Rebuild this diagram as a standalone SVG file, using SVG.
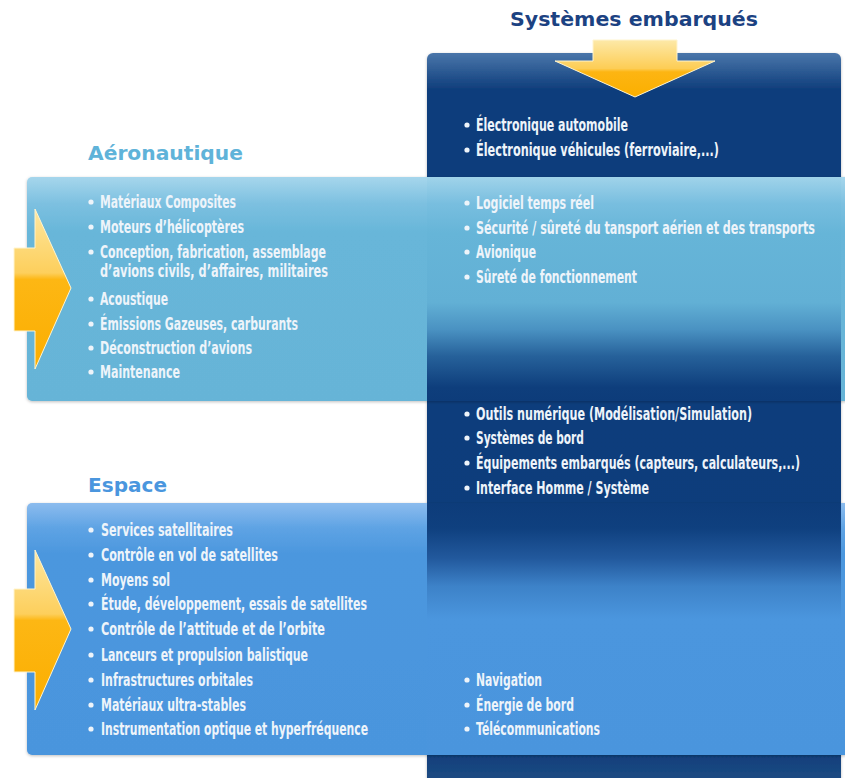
<svg xmlns="http://www.w3.org/2000/svg" width="845" height="778" viewBox="0 0 845 778">
  <defs>
    <style>
      .title { font-family: "DejaVu Sans", "Liberation Sans", sans-serif; font-weight: bold; }
      .item { font-family: "DejaVu Sans", "Liberation Sans", sans-serif; font-weight: bold; font-size: 11px; fill: #eef4fa; }
      .dot { fill: #eef4fa; }
    </style>
    <linearGradient id="colGrad" gradientUnits="userSpaceOnUse" x1="0" y1="53" x2="0" y2="778">
      <stop offset="0" stop-color="#4a76aa"/>
      <stop offset="0.05" stop-color="#0f3e7c"/>
      <stop offset="0.96" stop-color="#0d3c7a"/>
      <stop offset="1" stop-color="#1d4a82"/>
    </linearGradient>
    <linearGradient id="aeroGrad" gradientUnits="userSpaceOnUse" x1="0" y1="177" x2="0" y2="401">
      <stop offset="0" stop-color="#a6d6ec"/>
      <stop offset="0.12" stop-color="#7cc0e0"/>
      <stop offset="0.25" stop-color="#67b6d9"/>
      <stop offset="1" stop-color="#66b4d7"/>
    </linearGradient>
    <linearGradient id="aeroCol" gradientUnits="userSpaceOnUse" x1="0" y1="177" x2="0" y2="401">
      <stop offset="0" stop-color="#a0d3ea"/>
      <stop offset="0.12" stop-color="#78bedf"/>
      <stop offset="0.25" stop-color="#66b5d8"/>
      <stop offset="0.56" stop-color="#62b0d5"/>
      <stop offset="0.68" stop-color="#4a92c2"/>
      <stop offset="0.8" stop-color="#26619a"/>
      <stop offset="0.94" stop-color="#0e3e7c"/>
      <stop offset="1" stop-color="#0d3c7a"/>
    </linearGradient>
    <linearGradient id="espGrad" gradientUnits="userSpaceOnUse" x1="0" y1="503" x2="0" y2="755">
      <stop offset="0" stop-color="#8cbcee"/>
      <stop offset="0.1" stop-color="#5ea3e4"/>
      <stop offset="0.2" stop-color="#4c97de"/>
      <stop offset="1" stop-color="#4a95dd"/>
    </linearGradient>
    <linearGradient id="espCol" gradientUnits="userSpaceOnUse" x1="0" y1="503" x2="0" y2="755">
      <stop offset="0" stop-color="#0d3c7a"/>
      <stop offset="0.1" stop-color="#0f407f"/>
      <stop offset="0.22" stop-color="#22599d"/>
      <stop offset="0.33" stop-color="#3d82c8"/>
      <stop offset="0.46" stop-color="#4b96de"/>
      <stop offset="1" stop-color="#4a95dd"/>
    </linearGradient>
    <linearGradient id="arrowV" x1="0" y1="0" x2="0" y2="1">
      <stop offset="0" stop-color="#fde9a8"/>
      <stop offset="0.5" stop-color="#fdcd55"/>
      <stop offset="0.56" stop-color="#fdb512"/>
      <stop offset="1" stop-color="#fbaf00"/>
    </linearGradient>
    <linearGradient id="arrowH" x1="0" y1="0" x2="0" y2="1">
      <stop offset="0" stop-color="#fde7a0"/>
      <stop offset="0.4" stop-color="#fdcf5c"/>
      <stop offset="0.44" stop-color="#fdb714"/>
      <stop offset="1" stop-color="#fbae00"/>
    </linearGradient>
    <filter id="shadow" x="-5%" y="-5%" width="110%" height="115%">
      <feDropShadow dx="0" dy="1" stdDeviation="1.5" flood-color="#000" flood-opacity="0.25"/>
    </filter>
  </defs>

  <rect x="0" y="0" width="845" height="778" fill="#ffffff"/>

  <g id="systemes-embarques">
    <text class="title" x="510" y="26" font-size="20" fill="#1c4282" textLength="248" lengthAdjust="spacingAndGlyphs">Systèmes embarqués</text>
    <rect x="427" y="53" width="414" height="740" rx="6" fill="url(#colGrad)" filter="url(#shadow)"/>
  </g>

  <g id="aeronautique">
    <text class="title" x="88" y="160" font-size="19" fill="#5fb3d9" textLength="155" lengthAdjust="spacingAndGlyphs">Aéronautique</text>
    <rect x="27" y="177" width="830" height="224" rx="5" fill="url(#aeroGrad)" filter="url(#shadow)"/>
    <rect x="427" y="177" width="414" height="224" fill="url(#aeroCol)"/>
  </g>

  <g id="espace">
    <text class="title" x="88" y="492" font-size="20" fill="#4a96de" textLength="79" lengthAdjust="spacingAndGlyphs">Espace</text>
    <rect x="27" y="503" width="830" height="252" rx="5" fill="url(#espGrad)" filter="url(#shadow)"/>
    <rect x="427" y="503" width="414" height="252" fill="url(#espCol)"/>
  </g>

  <g id="arrows">
    <polygon points="593,40 677,40 677,61 715,61 635,97 555,61 593,61" fill="url(#arrowV)" stroke="#fff4cf" stroke-width="1"/>
    <polygon points="14,248 35,248 35,209 71,288 35,369 35,331 14,331" fill="url(#arrowH)" stroke="#fff4cf" stroke-width="1"/>
    <polygon points="14,589 35,589 35,550 71,629 35,710 35,672 14,672" fill="url(#arrowH)" stroke="#fff4cf" stroke-width="1"/>
  </g>

  <g id="aero-items">
    <circle class="dot" cx="91" cy="202" r="2.6"/><text class="item" transform="translate(100,208) scale(1,1.6)" textLength="136" lengthAdjust="spacingAndGlyphs">Matériaux Composites</text>
    <circle class="dot" cx="91" cy="227" r="2.6"/><text class="item" transform="translate(100,233) scale(1,1.6)" textLength="144" lengthAdjust="spacingAndGlyphs">Moteurs d’hélicoptères</text>
    <circle class="dot" cx="91" cy="252" r="2.6"/><text class="item" transform="translate(100,258) scale(1,1.6)" textLength="226" lengthAdjust="spacingAndGlyphs">Conception, fabrication, assemblage</text>
    <text class="item" transform="translate(100,277) scale(1,1.6)" textLength="228" lengthAdjust="spacingAndGlyphs">d’avions civils, d’affaires, militaires</text>
    <circle class="dot" cx="91" cy="299" r="2.6"/><text class="item" transform="translate(100,305) scale(1,1.6)" textLength="68" lengthAdjust="spacingAndGlyphs">Acoustique</text>
    <circle class="dot" cx="91" cy="324" r="2.6"/><text class="item" transform="translate(100,330) scale(1,1.6)" textLength="198" lengthAdjust="spacingAndGlyphs">Émissions Gazeuses, carburants</text>
    <circle class="dot" cx="91" cy="348" r="2.6"/><text class="item" transform="translate(100,354) scale(1,1.6)" textLength="152" lengthAdjust="spacingAndGlyphs">Déconstruction d’avions</text>
    <circle class="dot" cx="91" cy="372" r="2.6"/><text class="item" transform="translate(100,378) scale(1,1.6)" textLength="80" lengthAdjust="spacingAndGlyphs">Maintenance</text>
  </g>

  <g id="espace-items">
    <circle class="dot" cx="91" cy="530" r="2.6"/><text class="item" transform="translate(101,536) scale(1,1.6)" textLength="132" lengthAdjust="spacingAndGlyphs">Services satellitaires</text>
    <circle class="dot" cx="91" cy="555" r="2.6"/><text class="item" transform="translate(101,561) scale(1,1.6)" textLength="177" lengthAdjust="spacingAndGlyphs">Contrôle en vol de satellites</text>
    <circle class="dot" cx="91" cy="580" r="2.6"/><text class="item" transform="translate(101,586) scale(1,1.6)" textLength="69" lengthAdjust="spacingAndGlyphs">Moyens sol</text>
    <circle class="dot" cx="91" cy="604" r="2.6"/><text class="item" transform="translate(101,610) scale(1,1.6)" textLength="266" lengthAdjust="spacingAndGlyphs">Étude, développement, essais de satellites</text>
    <circle class="dot" cx="91" cy="629" r="2.6"/><text class="item" transform="translate(101,635) scale(1,1.6)" textLength="224" lengthAdjust="spacingAndGlyphs">Contrôle de l’attitude et de l’orbite</text>
    <circle class="dot" cx="91" cy="655" r="2.6"/><text class="item" transform="translate(101,661) scale(1,1.6)" textLength="207" lengthAdjust="spacingAndGlyphs">Lanceurs et propulsion balistique</text>
    <circle class="dot" cx="91" cy="680" r="2.6"/><text class="item" transform="translate(101,686) scale(1,1.6)" textLength="152" lengthAdjust="spacingAndGlyphs">Infrastructures orbitales</text>
    <circle class="dot" cx="91" cy="705" r="2.6"/><text class="item" transform="translate(101,711) scale(1,1.6)" textLength="145" lengthAdjust="spacingAndGlyphs">Matériaux ultra-stables</text>
    <circle class="dot" cx="91" cy="729" r="2.6"/><text class="item" transform="translate(101,735) scale(1,1.6)" textLength="267" lengthAdjust="spacingAndGlyphs">Instrumentation optique et hyperfréquence</text>
  </g>

  <g id="systemes-items">
    <circle class="dot" cx="467" cy="125" r="2.6"/><text class="item" transform="translate(476,131) scale(1,1.6)" textLength="152" lengthAdjust="spacingAndGlyphs">Électronique automobile</text>
    <circle class="dot" cx="467" cy="150" r="2.6"/><text class="item" transform="translate(476,156) scale(1,1.6)" textLength="243" lengthAdjust="spacingAndGlyphs">Électronique véhicules (ferroviaire,...)</text>
    <circle class="dot" cx="467" cy="203" r="2.6"/><text class="item" transform="translate(476,209) scale(1,1.6)" textLength="118" lengthAdjust="spacingAndGlyphs">Logiciel temps réel</text>
    <circle class="dot" cx="467" cy="228" r="2.6"/><text class="item" transform="translate(476,234) scale(1,1.6)" textLength="339" lengthAdjust="spacingAndGlyphs">Sécurité / sûreté du tansport aérien et des transports</text>
    <circle class="dot" cx="467" cy="252" r="2.6"/><text class="item" transform="translate(476,258) scale(1,1.6)" textLength="60" lengthAdjust="spacingAndGlyphs">Avionique</text>
    <circle class="dot" cx="467" cy="277" r="2.6"/><text class="item" transform="translate(476,283) scale(1,1.6)" textLength="161" lengthAdjust="spacingAndGlyphs">Sûreté de fonctionnement</text>
    <circle class="dot" cx="467" cy="414" r="2.6"/><text class="item" transform="translate(476,420) scale(1,1.6)" textLength="276" lengthAdjust="spacingAndGlyphs">Outils numérique (Modélisation/Simulation)</text>
    <circle class="dot" cx="467" cy="438" r="2.6"/><text class="item" transform="translate(476,444) scale(1,1.6)" textLength="108" lengthAdjust="spacingAndGlyphs">Systèmes de bord</text>
    <circle class="dot" cx="467" cy="463" r="2.6"/><text class="item" transform="translate(476,469) scale(1,1.6)" textLength="324" lengthAdjust="spacingAndGlyphs">Équipements embarqués (capteurs, calculateurs,...)</text>
    <circle class="dot" cx="467" cy="488" r="2.6"/><text class="item" transform="translate(476,494) scale(1,1.6)" textLength="173" lengthAdjust="spacingAndGlyphs">Interface Homme / Système</text>
    <circle class="dot" cx="467" cy="680" r="2.6"/><text class="item" transform="translate(476,686) scale(1,1.6)" textLength="66" lengthAdjust="spacingAndGlyphs">Navigation</text>
    <circle class="dot" cx="467" cy="705" r="2.6"/><text class="item" transform="translate(476,711) scale(1,1.6)" textLength="98" lengthAdjust="spacingAndGlyphs">Énergie de bord</text>
    <circle class="dot" cx="467" cy="729" r="2.6"/><text class="item" transform="translate(476,735) scale(1,1.6)" textLength="124" lengthAdjust="spacingAndGlyphs">Télécommunications</text>
  </g>
</svg>
